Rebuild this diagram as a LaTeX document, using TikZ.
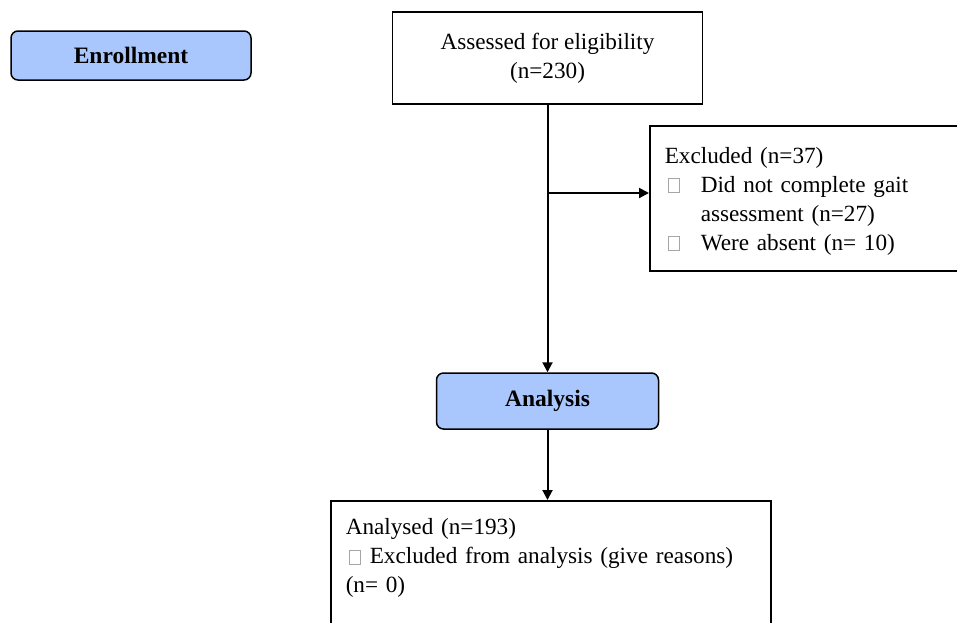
\documentclass[tikz,border=0pt]{standalone}
\usepackage{fontspec}
\setmainfont{Liberation Serif}
\usetikzlibrary{arrows.meta}

\definecolor{stageblue}{HTML}{A9C7FC}
\newcommand{\sqmark}{\tikz[baseline=0pt]\draw[black!35,line width=0.6pt] (0,0) rectangle (11pt,14pt);}

\begin{document}
\begin{tikzpicture}[x=1pt, y=-1pt,
    stage/.style={draw, rounded corners=7pt, fill=stageblue, line width=1.5pt, font=\bfseries\fontsize{23.5}{29}\selectfont},
    plainbox/.style={draw, line width=1.5pt, font=\fontsize{23.2}{29}\selectfont},
    flow/.style={-{Triangle[length=10pt,width=10pt]}, line width=2pt}]

  \useasboundingbox (0,0) rectangle (957,622);

  % stage labels
  \node[stage, minimum width=240pt, minimum height=49pt] (enroll) at (131,55.5) {Enrollment};
  \node[stage, minimum width=222pt, minimum height=56pt] (analysis) at (547.5,401) {Analysis};

  % flow boxes
  \node[plainbox, minimum width=310pt, minimum height=92pt, align=center] (assess) at (547.5,58) {Assessed for eligibility\\(n=230)};
  \node[plainbox, anchor=north west, minimum width=312pt, minimum height=145pt, text width=282pt, inner xsep=15pt, align=left] (excl) at (649,125) {%
    \rule{0pt}{22pt}Excluded (n=37)\\
    \makebox[36pt][l]{\hspace{3pt}\sqmark}Did not complete gait\\
    \hspace*{36pt}assessment (n=27)\\
    \makebox[36pt][l]{\hspace{3pt}\sqmark}Were absent (n= 10)};
  \node[plainbox, anchor=north west, text width=410pt, inner xsep=15pt, inner ysep=18pt, align=left] (analysed) at (330,500) {%
    Analysed (n=193)\\
    \makebox[24pt][l]{\hspace{3pt}\sqmark}Excluded from analysis (give reasons)\\
    (n= 0)\\
    \strut};

  % connectors
  \coordinate (branch) at (547.5,193);
  \draw[flow] (assess.south) -- (analysis.north);
  \draw[flow] (branch) -- (branch -| excl.west);
  \draw[flow] (analysis.south) -- (analysis.south |- analysed.north);

\end{tikzpicture}
\end{document}
